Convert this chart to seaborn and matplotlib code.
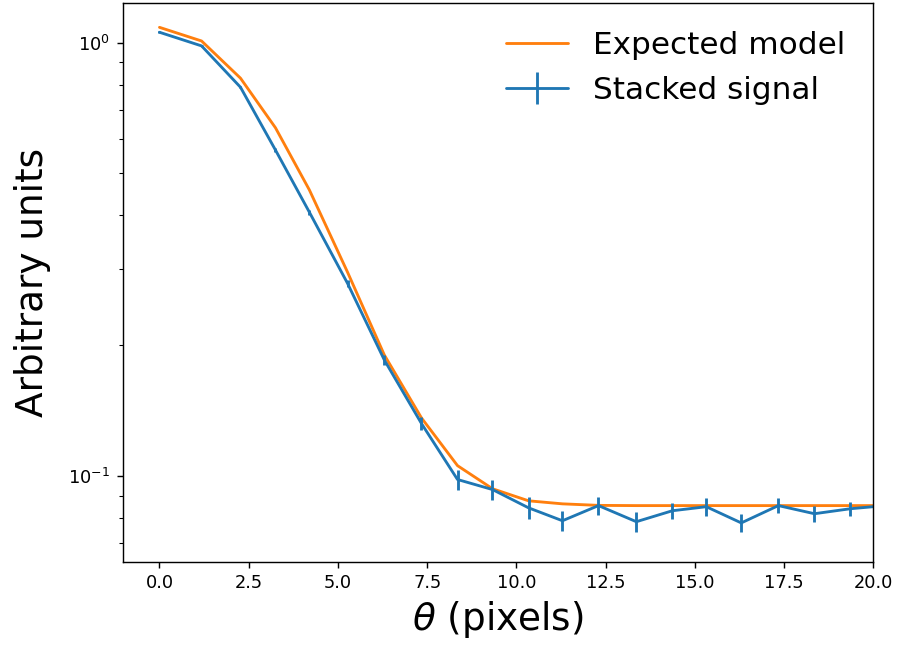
import matplotlib
matplotlib.use("Agg")
import matplotlib.pyplot as plt
import seaborn as sns
import pandas as pd

# Radial profile sample positions (pixels)
theta = [0.0, 1.18, 2.27, 3.25, 4.2, 5.27, 6.3, 7.34, 8.35, 9.33, 10.34,
         11.29, 12.3, 13.36, 14.37, 15.32, 16.3, 17.34, 18.35, 19.36, 20.35]

# Expected model profile
model = [1.085, 1.009, 0.828, 0.636, 0.457, 0.295, 0.190, 0.136, 0.1055,
         0.0933, 0.0875, 0.0861, 0.0854, 0.0853, 0.0853, 0.0853, 0.0853,
         0.0853, 0.0853, 0.0853, 0.0853]

# Stacked signal and its uncertainties
signal = [1.057, 0.983, 0.789, 0.565, 0.406, 0.278, 0.185, 0.132, 0.098,
          0.0929, 0.0843, 0.0787, 0.0853, 0.0783, 0.0830, 0.0848, 0.0778,
          0.0853, 0.0817, 0.0839, 0.0853]
signal_err = [0.005, 0.005, 0.005, 0.005, 0.005, 0.005, 0.0052, 0.0048,
              0.0053, 0.0051, 0.005, 0.0043, 0.0041, 0.0041, 0.0037, 0.0042,
              0.0037, 0.0033, 0.0036, 0.0031, 0.0031]

df = pd.DataFrame({"theta": theta, "model": model,
                   "signal": signal, "err": signal_err})

sns.set_style("ticks")
plt.rcParams.update({
    "font.family": ["DejaVu Sans"],
    "text.color": "black",
    "axes.labelcolor": "black",
    "xtick.color": "black",
    "ytick.color": "black",
    "axes.edgecolor": "black",
    "xtick.direction": "out",
    "ytick.direction": "out",
    "xtick.major.size": 3.5,
    "ytick.major.size": 3.5,
    "ytick.minor.size": 2.0,
    "axes.linewidth": 0.8,
    "xtick.major.width": 0.8,
    "ytick.major.width": 0.8,
    "ytick.minor.width": 0.6,
})

fig = plt.figure(figsize=(897 / 128, 646 / 128), dpi=128)
ax = fig.add_axes([0.1368, 0.1305, 0.9736 - 0.1368, 0.9949 - 0.1305])

sns.lineplot(data=df, x="theta", y="model", ax=ax, color="#ff7f0e",
             linewidth=1.6, label="Expected model")
ax.errorbar(df["theta"], df["signal"], yerr=df["err"], color="#1f77b4",
            linewidth=1.6, elinewidth=1.6, capsize=0, label="Stacked signal")

ax.set_yscale("log")
ax.set_xlim(-1.03, 20.0)
ax.set_ylim(0.0633, 1.233)
for s in ax.spines.values():
    s.set_visible(True)

ax.set_xlabel(r"$\theta$ (pixels)", fontsize=21)
ax.set_ylabel("Arbitrary units", fontsize=21, labelpad=10)
ax.tick_params(axis="both", labelsize=10)

ax.legend(loc="upper right", frameon=False, fontsize=17.5)

fig.savefig("out.png", dpi=128)
